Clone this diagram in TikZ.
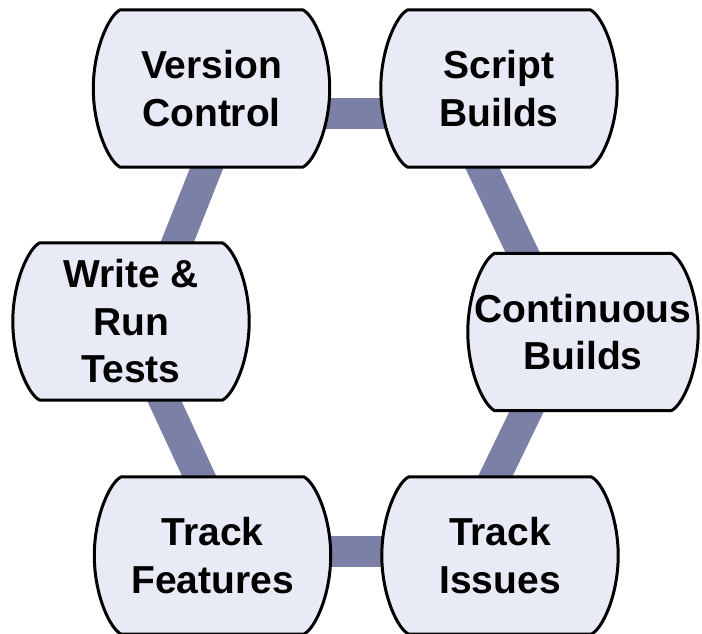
\documentclass[tikz,border=0pt]{standalone}
\usepackage{fontspec}
\setmainfont{Liberation Sans}
\usetikzlibrary{calc}
\definecolor{boxfill}{HTML}{E8EAF5}
\definecolor{connc}{HTML}{7C7FA6}
\pgfdeclarelayer{bg}
\pgfdeclarelayer{shp}
\pgfsetlayers{bg,shp,main}
\newcommand\barrelbox[1]{%
  \draw[boxline] ([xshift=27pt]#1.north west) -- ([xshift=-27pt]#1.north east)
    .. controls ([xshift=-16pt,yshift=-5pt]#1.north east) and ([yshift=40pt]#1.east) .. (#1.east)
    .. controls ([yshift=-40pt]#1.east) and ([xshift=-16pt,yshift=5pt]#1.south east) .. ([xshift=-27pt]#1.south east)
    -- ([xshift=27pt]#1.south west)
    .. controls ([xshift=16pt,yshift=5pt]#1.south west) and ([yshift=-40pt]#1.west) .. (#1.west)
    .. controls ([yshift=40pt]#1.west) and ([xshift=16pt,yshift=-5pt]#1.north west) .. cycle;}
\begin{document}
\begin{tikzpicture}[x=1pt,y=1pt,
  box/.style={minimum width=236pt, minimum height=157pt, inner sep=0pt, align=center,
    font=\bfseries\fontsize{39}{47.5}\selectfont},
  boxline/.style={draw=black, line width=3pt, fill=boxfill, line join=round},
  conn/.style={draw=connc, line width=31pt, shorten <=-16pt, shorten >=-16pt}]
\useasboundingbox (0,0) rectangle (702,633);
\node[box] (vc) at (211.5,544.5) {Version\\Control};
\node[box] (sb) at (499,544.5) {Script\\Builds};
\node[box] (wr) at (131,311.5) {Write \&\\Run\\Tests};
\node[box, minimum width=230pt] (cb) at (583,301) {Continuous\\Builds};
\node[box] (tf) at (212.5,77.5) {Track\\Features};
\node[box] (ti) at (500,77.5) {Track\\Issues};
\begin{pgfonlayer}{shp}
\foreach \n in {vc,sb,wr,cb,tf,ti} {\barrelbox{\n}}
\end{pgfonlayer}
\begin{pgfonlayer}{bg}
\draw[conn] ([yshift=-25pt]vc.center) -- ([yshift=-25pt]sb.center);
\draw[conn] ([xshift=-17pt]sb.south) -- ([xshift=-60pt]cb.north);
\draw[conn] ([xshift=-56pt]cb.south) -- ([xshift=-5pt]ti.north);
\draw[conn] ([yshift=4.5pt]ti.center) -- ([yshift=4.5pt]tf.center);
\draw[conn] ([xshift=-13pt]tf.north) -- ([xshift=33pt]wr.south);
\draw[conn] ([xshift=46pt]wr.north) -- ([xshift=-4.5pt]vc.south);
\end{pgfonlayer}
\end{tikzpicture}
\end{document}
